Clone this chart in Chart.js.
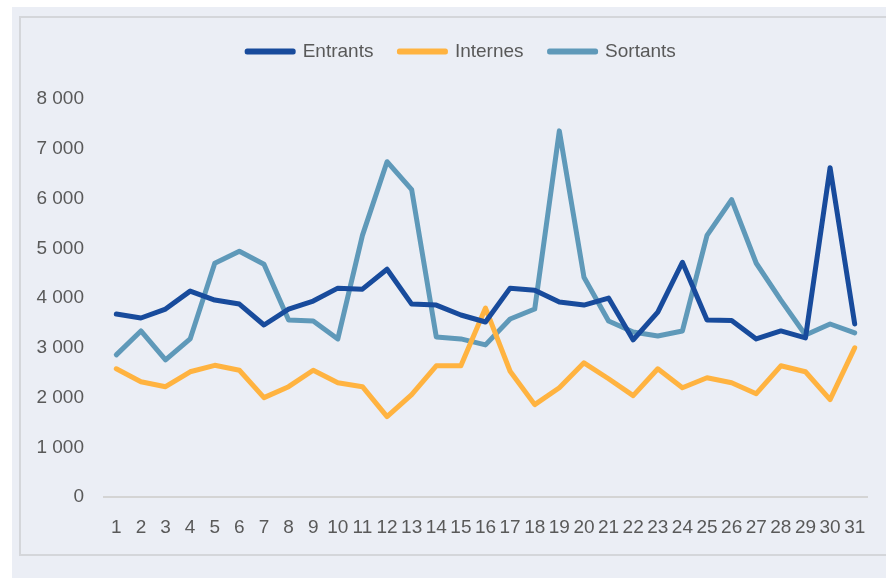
<!DOCTYPE html>
<html>
<head>
<meta charset="utf-8">
<script src="https://cdn.jsdelivr.net/npm/chart.js@4.4.0/dist/chart.umd.min.js"></script>
<style>
  html, body { margin: 0; padding: 0; background: #ffffff; }
  #panel { position: absolute; left: 12px; top: 7px; width: 874px; height: 571px; background: #ebeef5; }
  #frame { position: absolute; left: 19px; top: 16px; width: 880px; height: 536px; border: 2px solid #d4d6da; border-right: none; }
  #wrap { position: absolute; left: 0; top: 0; width: 886px; height: 578px; }
</style>
</head>
<body>
<div id="panel"></div>
<div id="frame"></div>
<div id="wrap"><canvas id="trafficChart" width="886" height="578"></canvas></div>
<script>
  // Days of the month
  const days = ['1','2','3','4','5','6','7','8','9','10','11','12','13','14','15','16',
                '17','18','19','20','21','22','23','24','25','26','27','28','29','30','31'];

  const entrants = [3680, 3600, 3780, 4140, 3960, 3880, 3460, 3780, 3940, 4200,
                    4180, 4580, 3880, 3860, 3660, 3520, 4200, 4160, 3920, 3860,
                    4000, 3160, 3720, 4720, 3560, 3550, 3180, 3340, 3200, 6620, 3480];

  const internes = [2580, 2320, 2220, 2520, 2650, 2550, 2000, 2220, 2550, 2300,
                    2220, 1620, 2060, 2640, 2640, 3800, 2530, 1860, 2200, 2700,
                    2380, 2040, 2580, 2200, 2400, 2300, 2080, 2640, 2520, 1960, 3000];

  const sortants = [2860, 3340, 2760, 3180, 4700, 4940, 4680, 3560, 3540, 3180,
                    5260, 6740, 6180, 3220, 3180, 3060, 3580, 3780, 7360, 4420,
                    3540, 3320, 3240, 3340, 5260, 5980, 4700, 3960, 3260, 3480, 3300];

  const yTicks = [0, 1000, 2000, 3000, 4000, 5000, 6000, 7000, 8000];

  const textColor = '#595959';
  const fontFamily = '"Liberation Sans", Arial, sans-serif';

  function makeLine(label, data, color) {
    return {
      label: label,
      data: data,
      borderColor: color,
      backgroundColor: color,
      borderWidth: 5,
      pointRadius: 0,
      tension: 0,
      borderJoinStyle: 'round',
      borderCapStyle: 'round'
    };
  }

  // extra room under the legend, and nudge it right a bit
  const legendSpacer = {
    id: 'legendSpacer',
    beforeInit(chart) {
      const origFit = chart.legend.fit;
      chart.legend.fit = function() {
        origFit.bind(chart.legend)();
        this.height += 28;
      };
    },
    afterLayout(chart) {
      chart.legend.left += 11;
      chart.legend.right += 11;
    }
  };

  const ctx = document.getElementById('trafficChart').getContext('2d');
  new Chart(ctx, {
    type: 'line',
    data: {
      labels: days,
      datasets: [
        makeLine('Entrants', entrants, '#184b9c'),
        makeLine('Internes', internes, '#ffb340'),
        makeLine('Sortants', sortants, '#5f99b9')
      ]
    },
    options: {
      responsive: false,
      animation: false,
      layout: {
        padding: { left: 34, right: 19, top: 16, bottom: 20 }
      },
      plugins: {
        legend: {
          position: 'top',
          labels: {
            boxWidth: 46,
            boxHeight: 1,
            padding: 26,
            color: textColor,
            font: { family: fontFamily, size: 19 }
          }
        },
        tooltip: { enabled: false }
      },
      scales: {
        x: {
          offset: true,
          grid: { display: false, drawTicks: false },
          border: { display: true, color: '#d4d4d4', width: 2 },
          ticks: {
            color: textColor,
            padding: 19,
            maxRotation: 0,
            autoSkip: false,
            font: { family: fontFamily, size: 19 }
          }
        },
        y: {
          min: 0,
          max: 8000,
          afterFit: function(scale) { scale.width = 70; },
          afterBuildTicks: function(scale) {
            scale.ticks = yTicks.map(v => ({ value: v }));
          },
          grid: { display: false, drawTicks: false },
          border: { display: false },
          ticks: {
            color: textColor,
            padding: 20,
            font: { family: fontFamily, size: 19 },
            callback: function(value) {
              return String(value).replace(/\B(?=(\d{3})+(?!\d))/g, ' ');
            }
          }
        }
      }
    },
    plugins: [legendSpacer]
  });
</script>
</body>
</html>
